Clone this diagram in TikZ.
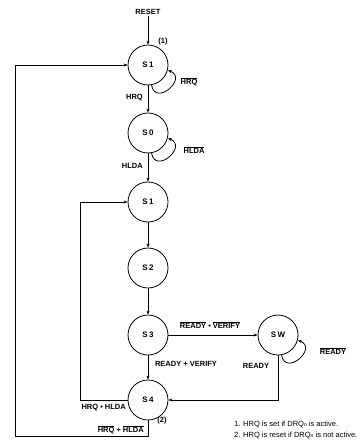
\documentclass[tikz,border=0pt]{standalone}
\usepackage{fontspec}
\setmainfont{Liberation Sans}
\usetikzlibrary{arrows.meta}
\begin{document}
\begin{tikzpicture}[x=1pt,y=-1pt,
  state/.style={draw,circle,line width=0.8pt,minimum size=40pt,inner sep=0pt,font=\bfseries\fontsize{8}{9}\selectfont},
  lbl/.style={font=\bfseries\fontsize{7.5}{9}\selectfont,inner sep=1pt},
  note/.style={font=\fontsize{7.5}{9}\selectfont,inner sep=0pt,anchor=west},
  edge/.style={line width=0.8pt,-{Stealth[length=4pt,width=3pt]}},
  selfloop/.style={line width=0.8pt,-{Stealth[length=4pt,width=3pt]},out=-80,in=-20,looseness=2.6}]
\useasboundingbox (0,0) rectangle (356,441);
\node[lbl] (reset) at (148,12) {RESET};
\node[state] (s1a) at (148,65) {S\,1};
\node[state] (s0) at (148,133) {S\,0};
\node[state] (s1b) at (148,202) {S\,1};
\node[state] (s2) at (148,268) {S\,2};
\node[state] (s3) at (148,335) {S\,3};
\node[state] (s4) at (148,400) {S\,4};
\node[state] (sw) at (278,335) {S\,W};
\coordinate (c1) at (148,436);
\coordinate (c2) at (15,436);
\coordinate (c3) at (15,65);
\coordinate (c4) at (80,400);
\coordinate (c5) at (80,202);
\coordinate (c6) at (278,400);
\draw[edge] (reset) -- (s1a);
\draw[edge] (s1a) -- (s0);
\draw[edge] (s0) -- (s1b);
\draw[edge] (s1b) -- (s2);
\draw[edge] (s2) -- (s3);
\draw[edge] (s3) -- (s4);
\draw[edge] (s3) -- (sw);
\draw[edge] (sw) -- (c6) -- (s4);
\draw[edge] (s4) -- (c4) -- (c5) -- (s1b);
\draw[edge] (s4) -- (c1) -- (c2) -- (c3) -- (s1a);
\draw[selfloop] (s1a.-80) to (s1a.-15);
\draw[selfloop] (s0.-80) to (s0.-15);
\draw[selfloop] (sw.-80) to (sw.-15);
\node[lbl] (n1) at (163,42) {(1)};
\node[lbl,anchor=east] (lhrq) at (144,98) {HRQ};
\node[lbl,anchor=east] (lhlda) at (144,166) {HLDA};
\node[lbl] (lhrqn) at (189,82) {$\overline{\mbox{HRQ}}$};
\node[lbl] (lhldan) at (194,150) {$\overline{\mbox{HLDA}}$};
\node[lbl] (lrv) at (210,325) {$\overline{\mbox{READY}}$ \textbullet\ $\overline{\mbox{VERIFY}}$};
\node[lbl] (lreadyn) at (333,351) {$\overline{\mbox{READY}}$};
\node[lbl] (lrpv) at (186,364) {READY + VERIFY};
\node[lbl] (lready) at (256,366) {READY};
\node[lbl,anchor=east] (lhh) at (127,408) {HRQ \textbullet\ HLDA};
\node[lbl,anchor=east] (lhhn) at (145,430) {$\overline{\mbox{HRQ}}$ + $\overline{\mbox{HLDA}}$};
\node[lbl] (n2) at (162,421) {(2)};
\node[note] (note1) at (234,424) {1. HRQ is set if DRQ{\fontsize{5}{6}\selectfont n} is active.};
\node[note] (note2) at (234,435) {2. HRQ is reset if DRQ{\fontsize{5}{6}\selectfont n} is not active.};
\end{tikzpicture}
\end{document}
